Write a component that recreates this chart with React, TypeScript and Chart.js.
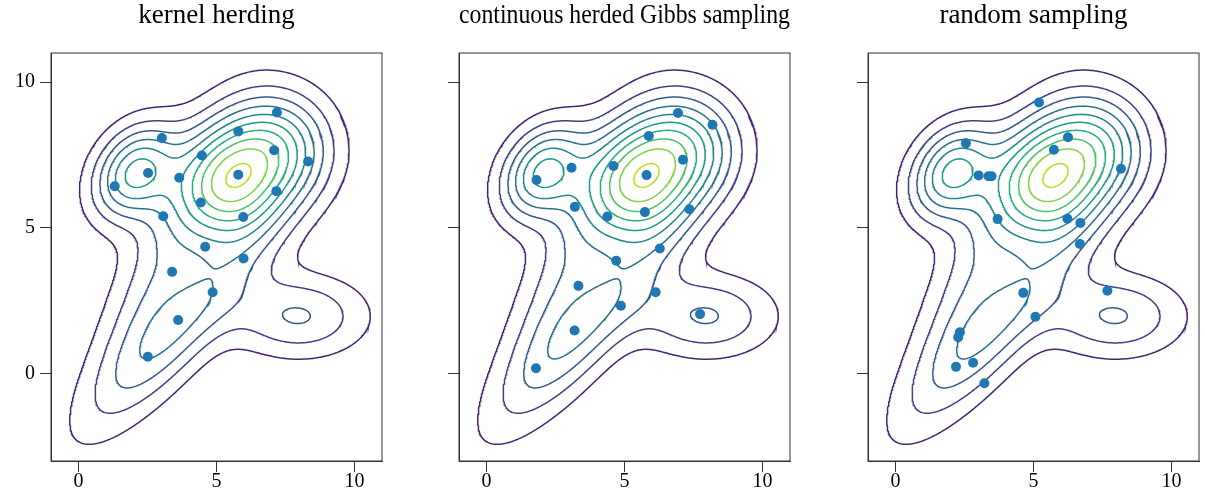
import React, { useEffect, useMemo, useRef } from "react";
import { Chart, registerables } from "chart.js";
Chart.register(...registerables);

// ---------- axes ----------
const X_MIN = -1, X_MAX = 11, Y_MIN = -3, Y_MAX = 11;
const X_TICKS = [0, 5, 10];
const Y_TICKS = [0, 5, 10];
const PANEL_TITLES = ["kernel herding", "continuous herded Gibbs sampling", "random sampling"];

// ---------- target density: Gaussian mixture (centre, spreads, rotation in degrees, height) ----------
const MIX_MX = [5.571, 7.385, 2.033, 3.525, 7.974, 3.149];
const MIX_MY = [6.514, 7.843, 6.898, 1.529, 1.968, 4.186];
const MIX_SX = [1.462, 1.296, 1.237, 3.029, 1.733, 3.106];
const MIX_SY = [1.318, 1.347, 0.919, 0.945, 0.983, 0.962];
const MIX_ANGLE = [61.2, 40.1, 52.3, 46.8, 0.0, 62.7];
const MIX_H = [8.155, 4.845, 6.119, 3.757, 3.085, 2.446];

const CONTOUR_LEVELS = [1, 2, 3, 4, 5, 6, 7, 8, 9, 10];
const LEVEL_COLORS = ["#482475", "#424086", "#38598c", "#2d708e", "#25858e", "#1f9a8a", "#2ab07f", "#4ec36b", "#81d34d", "#bddf26"];

// ---------- sampled points ----------
const KH_X = [7.19, 5.79, 3.02, 4.47, 7.09, 8.32, 2.52, 5.79, 3.65, 1.31, 7.17, 4.43, 5.97, 3.07, 4.59, 5.98, 3.39, 4.86, 3.61, 2.51];
const KH_Y = [8.96, 8.31, 8.08, 7.48, 7.66, 7.28, 6.88, 6.82, 6.72, 6.43, 6.26, 5.87, 5.37, 5.40, 4.35, 3.95, 3.49, 2.79, 1.84, 0.58];
const CHGS_X = [6.94, 8.19, 5.88, 7.12, 4.60, 3.08, 5.80, 1.81, 3.20, 7.35, 4.38, 5.74, 6.28, 4.70, 3.33, 6.13, 4.87, 7.74, 3.19, 1.79];
const CHGS_Y = [8.94, 8.54, 8.15, 7.34, 7.12, 7.06, 6.81, 6.64, 5.72, 5.64, 5.39, 5.54, 4.29, 3.87, 3.01, 2.79, 2.33, 2.04, 1.48, 0.18];
const RS_X = [5.20, 6.25, 5.74, 2.55, 8.17, 3.01, 3.37, 3.48, 3.70, 6.23, 6.70, 6.68, 7.68, 4.63, 5.07, 2.33, 2.27, 2.19, 2.81, 3.22];
const RS_Y = [9.30, 8.11, 7.68, 7.90, 7.03, 6.80, 6.77, 6.77, 5.30, 5.31, 5.17, 4.45, 2.84, 2.77, 1.95, 1.42, 1.25, 0.23, 0.37, -0.33];

const SERIF = '"Liberation Serif", "Times New Roman", serif';
const AXIS_COLOR = "#333333";
const POINT_COLOR = "#1f77b4";

function density(x: number, y: number) {
  let f = 0;
  for (let k = 0; k < MIX_MX.length; k++) {
    const th = (MIX_ANGLE[k] * Math.PI) / 180;
    const cs = Math.cos(th), sn = Math.sin(th);
    const dx = x - MIX_MX[k], dy = y - MIX_MY[k];
    const A = (cs * dx + sn * dy) / MIX_SX[k];
    const B = (-sn * dx + cs * dy) / MIX_SY[k];
    f += MIX_H[k] * Math.exp(-0.5 * (A * A + B * B));
  }
  return f;
}

type Line = { color: string; pts: { x: number; y: number }[] };

// marching squares on a grid evaluated over the axis range
function buildContours(): Line[] {
  const nx = 301, ny = 351;
  const dx = (X_MAX - X_MIN) / (nx - 1), dy = (Y_MAX - Y_MIN) / (ny - 1);
  const g = new Float64Array(nx * ny);
  for (let j = 0; j < ny; j++) for (let i = 0; i < nx; i++) g[j * nx + i] = density(X_MIN + i * dx, Y_MIN + j * dy);
  const SEGS: (number[][] | null)[] = [[], [[3, 0]], [[0, 1]], [[3, 1]], [[1, 2]], null, [[0, 2]], [[3, 2]], [[2, 3]], [[0, 2]], null, [[1, 2]], [[3, 1]], [[0, 1]], [[3, 0]], []];
  const lines: Line[] = [];
  CONTOUR_LEVELS.forEach((L, li) => {
    const adj = new Map<number, number[]>();
    const link = (a: number, b: number) => {
      if (!adj.has(a)) adj.set(a, []);
      if (!adj.has(b)) adj.set(b, []);
      adj.get(a)!.push(b);
      adj.get(b)!.push(a);
    };
    const pointOf = (id: number) => {
      if (id % 2 === 0) {
        const n = id / 2, i = n % nx, j = Math.floor(n / nx);
        const t = (L - g[n]) / (g[n + 1] - g[n]);
        return { x: X_MIN + (i + t) * dx, y: Y_MIN + j * dy };
      }
      const n = (id - 1) / 2, i = n % nx, j = Math.floor(n / nx);
      const t = (L - g[n]) / (g[n + nx] - g[n]);
      return { x: X_MIN + i * dx, y: Y_MIN + (j + t) * dy };
    };
    for (let j = 0; j < ny - 1; j++) for (let i = 0; i < nx - 1; i++) {
      const a = g[j * nx + i], b = g[j * nx + i + 1], c = g[(j + 1) * nx + i + 1], d = g[(j + 1) * nx + i];
      const idx = (a > L ? 1 : 0) | (b > L ? 2 : 0) | (c > L ? 4 : 0) | (d > L ? 8 : 0);
      if (idx === 0 || idx === 15) continue;
      const E = [2 * (j * nx + i), 2 * (j * nx + i + 1) + 1, 2 * ((j + 1) * nx + i), 2 * (j * nx + i) + 1];
      let segs = SEGS[idx];
      if (segs === null) {
        const centre = (a + b + c + d) / 4 > L;
        if (idx === 5) segs = centre ? [[0, 1], [2, 3]] : [[3, 0], [1, 2]];
        else segs = centre ? [[3, 0], [1, 2]] : [[0, 1], [2, 3]];
      }
      for (const s of segs) link(E[s[0]], E[s[1]]);
    }
    const visited = new Set<number>();
    const walk = (start: number) => {
      const chain = [start];
      visited.add(start);
      let cur = start;
      for (;;) {
        const nb = adj.get(cur)!.filter((q) => !visited.has(q));
        if (!nb.length) break;
        cur = nb[0];
        visited.add(cur);
        chain.push(cur);
      }
      return chain;
    };
    const chains: number[][] = [];
    adj.forEach((nbs, e) => { if (nbs.length === 1 && !visited.has(e)) chains.push(walk(e)); });
    adj.forEach((_n, e) => { if (!visited.has(e)) { const ch = walk(e); ch.push(ch[0]); chains.push(ch); } });
    for (const ch of chains) lines.push({ color: LEVEL_COLORS[li], pts: ch.map(pointOf) });
  });
  return lines;
}

const framePlugin = {
  id: "frame",
  afterDraw(chart: any) {
    const { ctx, chartArea: a } = chart;
    ctx.save();
    ctx.strokeStyle = AXIS_COLOR;
    ctx.lineWidth = 1;
    ctx.strokeRect(a.left, a.top, a.right - a.left, a.bottom - a.top);
    ctx.restore();
  },
};

function Panel(props: { left: number; title: string; xs: number[]; ys: number[]; showY: boolean; lines: Line[] }) {
  const ref = useRef<HTMLCanvasElement>(null);
  useEffect(() => {
    const datasets: any[] = [
      {
        data: props.xs.map((x, i) => ({ x, y: props.ys[i] })),
        pointRadius: 5, pointHoverRadius: 5, pointBackgroundColor: POINT_COLOR, pointBorderColor: POINT_COLOR,
        pointBorderWidth: 0, showLine: false, order: 0,
      },
    ];
    props.lines.forEach((ln) => datasets.push({
      data: ln.pts, showLine: true, borderColor: ln.color, borderWidth: 1.5, pointRadius: 0, pointHoverRadius: 0, fill: false, tension: 0, order: 1,
    }));
    const chart = new Chart(ref.current!, {
      type: "scatter",
      data: { datasets },
      options: {
        animation: false, responsive: false, events: [],
        layout: { padding: { left: 0, right: 4, top: 0, bottom: 0 } },
        plugins: {
          legend: { display: false }, tooltip: { enabled: false },
          title: { display: true, text: props.title, fullSize: false, color: "#000", font: { family: SERIF, size: 27, weight: "normal" }, padding: { top: 0, bottom: 20.6 } },
        },
        scales: {
          x: {
            type: "linear", min: X_MIN, max: X_MAX,
            afterBuildTicks: (s: any) => { s.ticks = X_TICKS.map((value) => ({ value })); },
            afterFit: (s: any) => { s.height = 43; },
            grid: { drawOnChartArea: false, drawTicks: true, tickLength: 11, color: AXIS_COLOR, lineWidth: 1 },
            border: { display: true, color: AXIS_COLOR, width: 1 },
            ticks: { color: "#000", font: { family: SERIF, size: 20 }, padding: -2, maxRotation: 0, autoSkip: false },
          },
          y: {
            type: "linear", min: Y_MIN, max: Y_MAX,
            afterBuildTicks: (s: any) => { s.ticks = Y_TICKS.map((value) => ({ value })); },
            afterFit: (s: any) => { s.width = 51; },
            grid: { drawOnChartArea: false, drawTicks: true, tickLength: 11, color: AXIS_COLOR, lineWidth: 1 },
            border: { display: true, color: AXIS_COLOR, width: 1 },
            ticks: { color: "#000", font: { family: SERIF, size: 20 }, padding: 5, autoSkip: false, callback: (v: any) => (props.showY ? String(v) : "") },
          },
        },
      } as any,
      plugins: [framePlugin],
    });
    return () => chart.destroy();
  }, [props.lines]);
  return <canvas ref={ref} width={387} height={504} style={{ position: "absolute", left: props.left, top: 0, width: 387, height: 504 }} />;
}

export default function App() {
  const lines = useMemo(() => buildContours(), []);
  return (
    <div style={{ position: "absolute", left: 0, top: 0, width: 1205, height: 504, background: "#fff" }}>
      <Panel left={0} title={PANEL_TITLES[0]} xs={KH_X} ys={KH_Y} showY={true} lines={lines} />
      <Panel left={408} title={PANEL_TITLES[1]} xs={CHGS_X} ys={CHGS_Y} showY={false} lines={lines} />
      <Panel left={817} title={PANEL_TITLES[2]} xs={RS_X} ys={RS_Y} showY={false} lines={lines} />
    </div>
  );
}
